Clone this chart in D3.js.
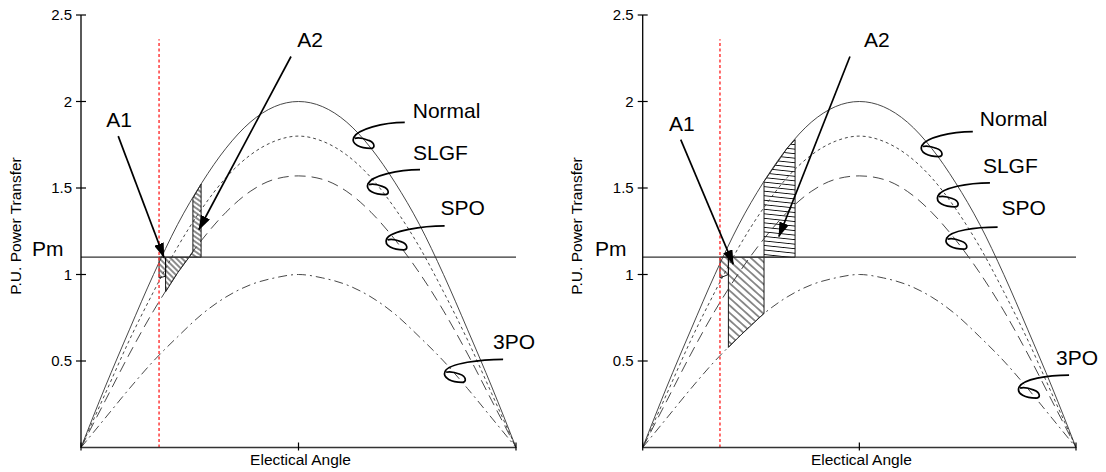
<!DOCTYPE html>
<html>
<head>
<meta charset="utf-8">
<script src="https://cdn.jsdelivr.net/npm/d3@7"></script>
<style>
body { margin: 0; background: #fff; }
text { font-family: "Liberation Sans", Arial, sans-serif; fill: #000; }
</style>
</head>
<body>
<svg id="chart" width="1106" height="472"></svg>
<script>

// power-angle curves, every 10 degrees
let angles   = [0, 10, 20, 30, 40, 50, 60, 70, 80, 90, 100, 110, 120, 130, 140, 150, 160, 170, 180];
let normalP  = [0, 0.35, 0.68, 1.00, 1.29, 1.53, 1.73, 1.88, 1.97, 2.00, 1.97, 1.88, 1.73, 1.53, 1.29, 1.00, 0.68, 0.35, 0];
let slgfP    = [0, 0.31, 0.62, 0.90, 1.16, 1.38, 1.56, 1.69, 1.77, 1.80, 1.77, 1.69, 1.56, 1.38, 1.16, 0.90, 0.62, 0.31, 0];
let spoP     = [0, 0.27, 0.54, 0.79, 1.01, 1.20, 1.36, 1.48, 1.55, 1.57, 1.55, 1.48, 1.36, 1.20, 1.01, 0.79, 0.54, 0.27, 0];
let threePoP = [0, 0.17, 0.34, 0.50, 0.64, 0.77, 0.87, 0.94, 0.98, 1.00, 0.98, 0.94, 0.87, 0.77, 0.64, 0.50, 0.34, 0.17, 0];

let curveNames  = ['Normal', 'SLGF', 'SPO', '3PO'];
let curveValues = [normalP, slgfP, spoP, threePoP];

let pm = 1.1;
let yTicks = [0.5, 1, 1.5, 2, 2.5];
let xTicks = [0, 90, 180];
let redTop = 2.36;

// swing angles for the two cases (left, right)
let faultCurve = ['SPO', '3PO'];
let delta0 = [32.3, 32.1];
let delta1 = [35.0, 35.6];
let deltaC = [46.3, 50.4];
let deltaM = [49.7, 63.3];
let sliverLow = [[0.98, 0.99], [0.98, 1.0]];

// where each curve label's loop sits (angle on the curve)
let loopAngles = [[117, 122.9, 130.6, 154.8], [120.1, 126.8, 130.4, 160.5]];

// A1 / A2 arrows: [startAngle, startP, tipAngle, tipP]
let arrowA1 = [[15.4, 1.80, 34.3, 1.10], [15.8, 1.78, 37.6, 1.06]];
let arrowA2 = [[86.9, 2.26, 48.8, 1.26], [86.1, 2.26, 56.6, 1.22]];

// ---- styles / layout ----
let Dash = { Normal: null, SLGF: '3,3', SPO: '11,6', '3PO': '9,4,2,4' };

let Panels = [
    { left: 81, right: 516, yLabelX: 21, pmX: 32 },
    { left: 642.7, right: 1076, yLabelX: 582, pmX: 595 }
];
let PlotY = { bottom: 447.5, top: 15 };

// label offsets from the loop centre: [textDx, textDy, leaderDx, leaderDy]
let LabelOffsets = [
    [[49, -22, 41, -18], [35, -27, 42, -17], [44, -27, 48, -16], [38, -25, 48, -15]],
    [[48, -23, 41, -17], [35, -26, 42, -16], [45, -26, 41, -14], [27, -25, 40, -15]]
];

// hatch styles [rotation, spacing]
let Hatch = [
    { A1: [45, 4], A2: [35, 4] },
    { A1: [42, 5.5], A2: [6, 4.5] }
];

let svg = d3.select('#chart');
let defs = svg.append('defs');

defs.append('marker')
    .attr('id', 'arrowHead')
    .attr('markerUnits', 'userSpaceOnUse')
    .attr('markerWidth', 15)
    .attr('markerHeight', 10)
    .attr('refX', 14)
    .attr('refY', 5)
    .attr('orient', 'auto')
    .append('path')
    .attr('d', 'M0,0 L15,5 L0,10 Z')
    .attr('fill', '#000');

let curveOf = name => curveValues[curveNames.indexOf(name)];

class Panel {

    constructor(idx) {
        this.idx = idx;
        let p = Panels[idx];
        this.p = p;
        this.x = d3.scaleLinear().domain([0, 180]).range([p.left, p.right]);
        this.y = d3.scaleLinear().domain([0, 2.5]).range([PlotY.bottom, PlotY.top]);
        this.g = svg.append('g');

        this.drawHatches();
        this.drawCurves();
        this.drawAxes();
        this.drawAnnotations();
    }

    // piecewise value on a curve at any angle
    valueAt(vals, a) {
        return d3.scaleLinear().domain(angles).range(vals)(a);
    }

    segment(vals, a0, a1) {
        let pts = [[a0, this.valueAt(vals, a0)]];
        let inner = angles.filter(a => a > Math.min(a0, a1) && a < Math.max(a0, a1));
        if (a1 < a0) inner.reverse();
        inner.forEach(a => pts.push([a, this.valueAt(vals, a)]));
        pts.push([a1, this.valueAt(vals, a1)]);
        return pts;
    }

    makePattern(id, rot, gap) {
        let pat = defs.append('pattern')
            .attr('id', id)
            .attr('patternUnits', 'userSpaceOnUse')
            .attr('width', 40)
            .attr('height', gap)
            .attr('patternTransform', `rotate(${rot})`);
        pat.append('line')
            .attr('x1', 0).attr('x2', 40)
            .attr('y1', gap / 2).attr('y2', gap / 2)
            .attr('stroke', '#000')
            .attr('stroke-width', 0.9);
    }

    drawHatches() {
        let i = this.idx;
        let fault = curveOf(faultCurve[i]);
        let d0 = delta0[i], d1 = delta1[i], dc = deltaC[i], dm = deltaM[i];

        // where the fault curve reaches Pm (if it does)
        let upTo = angles.slice(0, 10);
        let faultUp = fault.slice(0, 10);
        let dx = d3.max(faultUp) > pm
            ? d3.scaleLinear().domain(faultUp).range(upTo)(pm)
            : Infinity;

        this.makePattern(`hA1_${i}`, Hatch[i].A1[0], Hatch[i].A1[1]);
        this.makePattern(`hA2_${i}`, Hatch[i].A2[0], Hatch[i].A2[1]);

        let sliver = [[d0, pm], [d1, pm], [d1, sliverLow[i][1]], [d0, sliverLow[i][0]]];

        let a1 = [[d1, pm]];
        if (dc < dx) {
            a1.push([dc, pm]);
            a1 = a1.concat(this.segment(fault, dc, d1));
        } else {
            a1.push([dx, pm]);
            a1 = a1.concat(this.segment(fault, dx, d1));
        }

        let a2 = this.segment(normalP, dc, dm);
        a2.push([dm, pm]);
        if (dx < dc) {
            a2.push([dx, pm]);
            a2 = a2.concat(this.segment(fault, dx, dc));
        } else {
            a2.push([dc, pm]);
        }

        let line = d3.line().x(d => this.x(d[0])).y(d => this.y(d[1]));

        [[sliver, 'A1'], [a1, 'A1'], [a2, 'A2']].forEach(([pts, k]) => {
            this.g.append('path')
                .attr('d', line(pts) + 'Z')
                .attr('fill', `url(#h${k}_${i})`)
                .attr('stroke', '#000')
                .attr('stroke-width', 0.9);
        });
    }

    drawCurves() {
        let line = d3.line()
            .x((d, j) => this.x(angles[j]))
            .y(d => this.y(d))
            .curve(d3.curveMonotoneX);

        curveNames.forEach((name, k) => {
            this.g.append('path')
                .attr('d', line(curveValues[k]))
                .attr('fill', 'none')
                .attr('stroke', '#333')
                .attr('stroke-width', 0.9)
                .attr('stroke-dasharray', Dash[name]);
        });

        // Pm line
        this.g.append('line')
            .attr('x1', this.x(0)).attr('x2', this.x(180))
            .attr('y1', this.y(pm)).attr('y2', this.y(pm))
            .attr('stroke', '#333')
            .attr('stroke-width', 1.3);

        // initial angle
        this.g.append('line')
            .attr('x1', this.x(delta0[this.idx])).attr('x2', this.x(delta0[this.idx]))
            .attr('y1', this.y(0)).attr('y2', this.y(redTop))
            .attr('stroke', '#ff3b3b')
            .attr('stroke-width', 1.5)
            .attr('stroke-dasharray', '3,2.5');
    }

    drawAxes() {
        let g = this.g;
        let y0 = this.y(0);

        g.append('line')
            .attr('x1', this.x(0)).attr('x2', this.x(0))
            .attr('y1', y0).attr('y2', this.y(2.5))
            .attr('stroke', '#000').attr('stroke-width', 1.3);
        g.append('line')
            .attr('x1', this.x(0)).attr('x2', this.x(180))
            .attr('y1', y0).attr('y2', y0)
            .attr('stroke', '#333').attr('stroke-width', 1.3);

        g.selectAll('.ytick')
            .data(yTicks)
            .join('line')
            .attr('x1', this.x(0) - 5).attr('x2', this.x(0) + 5)
            .attr('y1', d => this.y(d)).attr('y2', d => this.y(d))
            .attr('stroke', '#000').attr('stroke-width', 1.2);

        g.selectAll('.ylab')
            .data(yTicks)
            .join('text')
            .attr('x', this.x(0) - 9)
            .attr('y', d => this.y(d) + 5)
            .attr('text-anchor', 'end')
            .attr('font-size', 15)
            .text(d => d);

        g.selectAll('.xtick')
            .data(xTicks)
            .join('line')
            .attr('x1', d => this.x(d)).attr('x2', d => this.x(d))
            .attr('y1', y0 - 5).attr('y2', y0 + 3)
            .attr('stroke', '#000').attr('stroke-width', 1.2);

        g.append('text')
            .attr('x', this.x(90) + 2)
            .attr('y', 465)
            .attr('text-anchor', 'middle')
            .attr('font-size', 15.5)
            .text('Electical Angle');

        g.append('text')
            .attr('transform', `translate(${this.p.yLabelX},${226}) rotate(-90)`)
            .attr('text-anchor', 'middle')
            .attr('font-size', 15.5)
            .text('P.U. Power Transfer');

        g.append('text')
            .attr('x', this.p.pmX)
            .attr('y', this.y(pm) - 1)
            .attr('font-size', 21)
            .text('Pm');
    }

    drawAnnotations() {
        let i = this.idx;
        let g = this.g;

        curveNames.forEach((name, k) => {
            let a = loopAngles[i][k];
            let cx = this.x(a);
            let cy = this.y(this.valueAt(curveValues[k], a));
            let [tdx, tdy, ldx, ldy] = LabelOffsets[i][k];
            let sx = cx + ldx, sy = cy + ldy;

            let path = d3.path();
            path.moveTo(sx, sy);
            path.bezierCurveTo(sx - 22, sy, cx - 6, cy - 11, cx - 10, cy - 3);
            path.bezierCurveTo(cx - 13, cy + 4, cx - 3, cy + 8, cx + 7, cy + 8);
            path.bezierCurveTo(cx + 12, cy + 8, cx + 11, cy + 2, cx + 5, cy);
            path.bezierCurveTo(cx, cy - 2, cx - 6, cy - 3, cx - 9, cy - 2);

            g.append('path')
                .attr('d', path.toString())
                .attr('fill', 'none')
                .attr('stroke', '#000')
                .attr('stroke-width', 1.7);

            g.append('text')
                .attr('x', cx + tdx)
                .attr('y', cy + tdy)
                .attr('font-size', 21)
                .text(name);
        });

        [[arrowA1[i], 'A1', [1, -9]], [arrowA2[i], 'A2', [i ? 27 : 19, -10]]].forEach(([arr, label, off]) => {
            let x1 = this.x(arr[0]), y1 = this.y(arr[1]);
            g.append('line')
                .attr('x1', x1).attr('y1', y1)
                .attr('x2', this.x(arr[2])).attr('y2', this.y(arr[3]))
                .attr('stroke', '#000')
                .attr('stroke-width', 1.7)
                .attr('marker-end', 'url(#arrowHead)');
            g.append('text')
                .attr('x', x1 + off[0])
                .attr('y', y1 + off[1])
                .attr('text-anchor', 'middle')
                .attr('font-size', 21)
                .text(label);
        });
    }
}

new Panel(0);
new Panel(1);

</script>
</body>
</html>
